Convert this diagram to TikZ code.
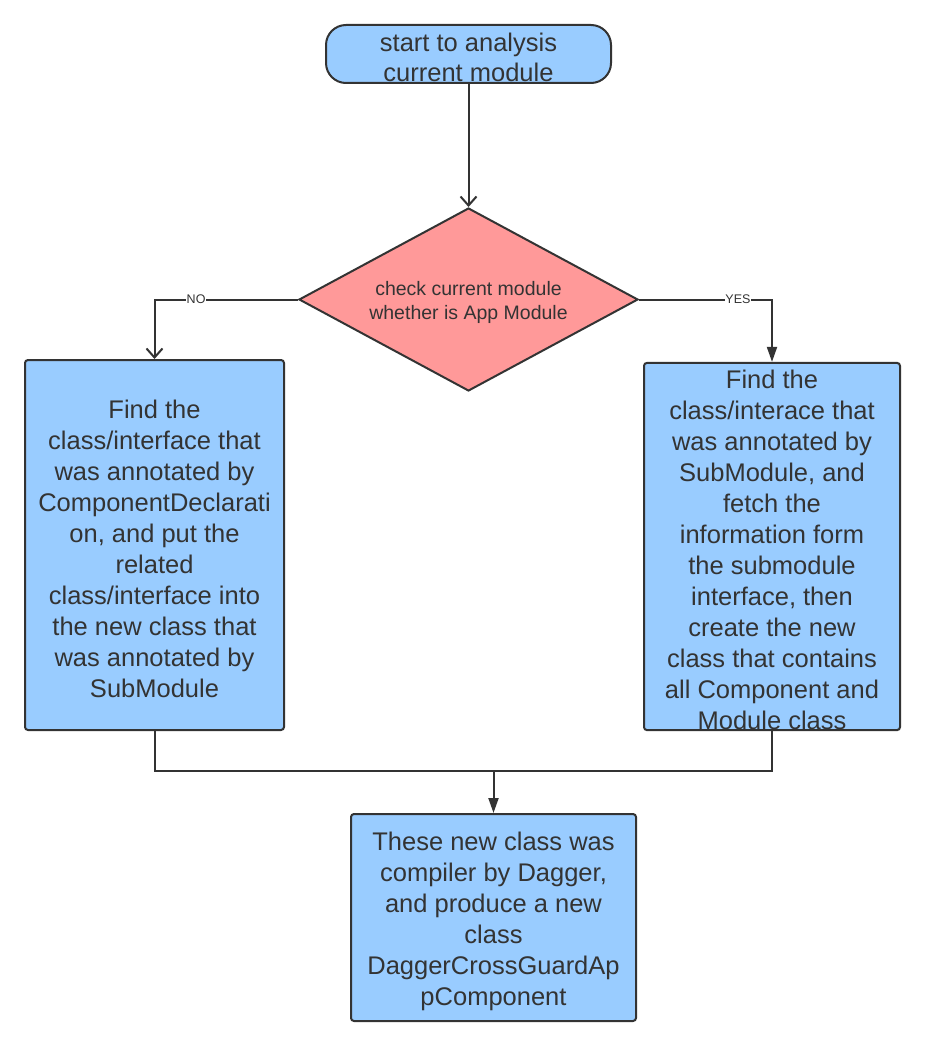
\documentclass[tikz,border=0pt]{standalone}
\usepackage{fontspec}
\setmainfont{Liberation Sans}
\usetikzlibrary{shapes.geometric,arrows.meta}
\definecolor{boxblue}{RGB}{153,204,255}
\definecolor{dpink}{RGB}{255,153,153}
\definecolor{ink}{RGB}{51,51,51}
\newcommand\topstrut[1]{\rule{0pt}{#1}}
\begin{document}
\begin{tikzpicture}[x=1pt,y=-1pt,
  line/.style={draw=ink,line width=2pt},
  proc/.style={draw=ink,line width=2pt,fill=boxblue,rounded corners=3pt,inner sep=0pt,align=center,text=ink,font=\fontsize{25.5}{31}\selectfont},
  term/.style={proc,rounded corners=20pt,font=\fontsize{25.5}{30}\selectfont},
  decide/.style={diamond,aspect=1.85,draw=ink,line width=2pt,fill=dpink,inner sep=0pt,align=center,text=ink,font=\fontsize{19.5}{24}\selectfont},
  openarr/.style={line,-{Straight Barb[length=9pt,width=16pt,line width=2pt]}},
  fillarr/.style={line,-{Triangle[length=15pt,width=10pt]}},
  lbl/.style={fill=white,inner sep=0.5pt,text=ink,font=\fontsize{12.5}{12.5}\selectfont}]
\fill[white] (0,0) rectangle (924,1046);
\useasboundingbox (0,0) rectangle (924,1046);

\node[term,minimum width=285pt,minimum height=58pt] (start) at (468.5,54) {\topstrut{26pt}start to analysis\\current module};
\node[decide,minimum width=339pt,minimum height=183pt] (dia) at (468.5,299.5) {\topstrut{21pt}check current module\\whether is App Module};
\node[proc,minimum width=259pt,minimum height=370pt] (left) at (154.5,545) {\topstrut{26pt}Find the\\class/interface that\\was annotated by\\ComponentDeclarati\\on, and put the\\related\\class/interface into\\the new class that\\was annotated by\\SubModule};
\node[proc,minimum width=256pt,minimum height=367pt] (right) at (772,546.5) {\topstrut{26pt}Find the\\class/interace that\\was annotated by\\SubModule, and\\fetch the\\information form\\the submodule\\interface, then\\create the new\\class that contains\\all Component and\\Module class};
\node[proc,minimum width=285pt,minimum height=207pt] (bot) at (493.5,917.5) {\topstrut{27pt}These new class was\\compiler by Dagger,\\and produce a new\\class\\DaggerCrossGuardAp\\pComponent};

\draw[openarr] (start.south) -- (dia.north);
\draw[openarr] (dia.west) -| node[lbl,pos=0.355] (no) {NO} (left.north);
\draw[fillarr] (dia.east) -| node[lbl,pos=0.372] (yes) {YES} (right.north);
\coordinate (j) at (493.5,771);
\draw[line] (left.south) |- (j) -| (right.south);
\draw[fillarr] (j) -- (bot.north);
\end{tikzpicture}
\end{document}
